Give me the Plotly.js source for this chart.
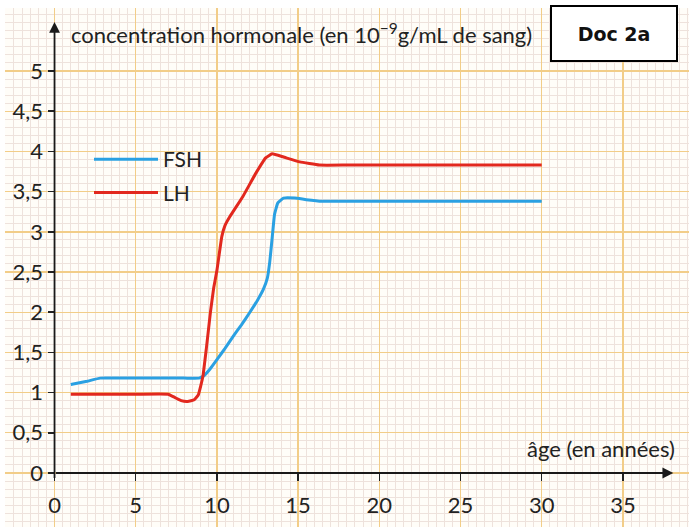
<!DOCTYPE html>
<html>
<head>
<meta charset="utf-8">
<script src="https://cdn.plot.ly/plotly-3.0.1.min.js"></script>
<style>
html,body{margin:0;padding:0;background:#fff;}
#chart{width:689px;height:527px;}
</style>
</head>
<body>
<div id="chart"></div>
<script>
// ---- data ----
const ageFSH = [1, 2, 2.8, 4, 6, 8, 8.9, 9.2, 9.6, 10, 10.5, 11, 11.5, 12, 12.5, 12.85, 13.1, 13.25, 13.4, 13.55, 13.75, 14.1, 14.8, 15.5, 16.5, 18, 20, 25, 30];
const fsh    = [1.10, 1.14, 1.18, 1.18, 1.18, 1.18, 1.18, 1.21, 1.30, 1.41, 1.55, 1.70, 1.84, 1.99, 2.15, 2.28, 2.42, 2.62, 2.92, 3.22, 3.36, 3.42, 3.42, 3.40, 3.38, 3.38, 3.38, 3.38, 3.38];
const ageLH  = [1, 3, 5, 7, 7.4, 7.8, 8.2, 8.6, 8.85, 9.0, 9.15, 9.35, 9.6, 9.8, 10.0, 10.3, 10.5, 10.8, 11.6, 12.4, 13.0, 13.4, 14.1, 15.1, 16.3, 18, 20, 25, 30];
const lh     = [0.98, 0.98, 0.98, 0.98, 0.94, 0.90, 0.89, 0.91, 0.97, 1.08, 1.22, 1.55, 2.0, 2.3, 2.52, 2.94, 3.08, 3.19, 3.44, 3.73, 3.92, 3.97, 3.93, 3.87, 3.83, 3.83, 3.83, 3.83, 3.83];
const seriesNames = ['FSH', 'LH'];
const xTicks = [0, 5, 10, 15, 20, 25, 30, 35];
const yTicks = [0, 0.5, 1, 1.5, 2, 2.5, 3, 3.5, 4, 4.5, 5];
const yTitle = 'concentration hormonale (en 10<sup>−9</sup>g/mL de sang)';
const xTitle = 'âge (en années)';
const docLabel = '<b>Doc 2a</b>';

// ---- geometry ----
const W = 689, H = 527;
const mL = 5, mR = 0, mT = 8, mB = 0;
const xRange = [-3.05, 39.07];
const yRange = [-0.672, 5.784];
const pw = W - mL - mR, ph = H - mT - mB;
const xFrac = v => (v - xRange[0]) / (xRange[1] - xRange[0]);
const yFrac = v => (v - yRange[0]) / (yRange[1] - yRange[0]);
const pxX = p => (p - mL) / pw;
const pxY = p => 1 - (p - mT) / ph;

const fontFam = 'Lato, "Open Sans", "DejaVu Sans", sans-serif';
const colFSH = '#2aa0e2', colLH = '#e2281e';
const gridMajor = '#f2cd88', gridMid = '#f5e1b0', gridMinor = '#eee2dc';

const traces = [
  {x: ageFSH, y: fsh, name: seriesNames[0], type: 'scatter', mode: 'lines',
   line: {color: colFSH, width: 3, shape: 'spline', smoothing: 0.3}, legendgroup: 'a', xaxis: 'x', yaxis: 'y'},
  {x: ageLH, y: lh, name: seriesNames[1], type: 'scatter', mode: 'lines',
   line: {color: colLH, width: 3, shape: 'spline', smoothing: 0.3}, legendgroup: 'b', xaxis: 'x', yaxis: 'y'}
];

const layout = {
  width: W, height: H,
  margin: {l: mL, r: mR, t: mT, b: mB, pad: 0},
  paper_bgcolor: '#ffffff',
  plot_bgcolor: '#fffdf8',
  separators: ', ',
  font: {family: fontFam, color: '#222', size: 20},
  showlegend: true,
  legend: {x: pxX(89), y: pxY(139), xanchor: 'left', yanchor: 'top',
           bgcolor: 'rgba(0,0,0,0)', font: {size: 21, color: '#222', family: fontFam},
           traceorder: 'grouped', tracegroupgap: 3, itemwidth: 64},
  xaxis: {
    range: xRange, anchor: 'free', position: yFrac(0),
    tickmode: 'array', tickvals: xTicks,
    ticks: 'outside', ticklen: 7, tickwidth: 1.5, tickcolor: '#222',
    ticklabelstandoff: 6,
    tickfont: {size: 22, color: '#222', family: fontFam},
    showgrid: true, gridcolor: gridMajor, gridwidth: 1.4,
    minor: {dtick: 0.5, tick0: 0, showgrid: true, gridcolor: gridMinor, gridwidth: 1, ticks: ''},
    zeroline: false, showline: false, fixedrange: true
  },
  yaxis: {
    range: yRange, anchor: 'free', position: xFrac(0),
    tickmode: 'array', tickvals: yTicks,
    ticks: 'outside', ticklen: 7, tickwidth: 1.5, tickcolor: '#222',
    tickfont: {size: 22, color: '#222', family: fontFam},
    showgrid: true, gridcolor: gridMajor, gridwidth: 1.4,
    minor: {dtick: 0.1, tick0: 0, showgrid: true, gridcolor: gridMinor, gridwidth: 1, ticks: ''},
    zeroline: false, showline: false, fixedrange: true
  },
  xaxis2: {
    range: xRange, overlaying: 'x', anchor: 'y2',
    tickmode: 'linear', tick0: 2.5, dtick: 5,
    showticklabels: false, ticks: '', showgrid: true, gridcolor: gridMid, gridwidth: 1.2,
    zeroline: false, showline: false, fixedrange: true
  },
  yaxis2: {
    range: yRange, overlaying: 'y', anchor: 'x2',
    tickmode: 'linear', tick0: 0.5, dtick: 1,
    showticklabels: false, ticks: '', showgrid: true, gridcolor: gridMid, gridwidth: 1.2,
    zeroline: false, showline: false, fixedrange: true
  },
  annotations: [
    // y axis line with arrow
    {x: 0, y: 5.61, ax: 0, ay: -0.08, xref: 'x', yref: 'y', axref: 'x', ayref: 'y',
     text: '', showarrow: true, arrowhead: 2, arrowsize: 1.2, arrowwidth: 1.8, arrowcolor: '#1a1a1a', standoff: 0, startstandoff: 0},
    // x axis line with arrow
    {x: 38.1, y: 0, ax: 0, ay: 0, xref: 'x', yref: 'y', axref: 'x', ayref: 'y',
     text: '', showarrow: true, arrowhead: 2, arrowsize: 1.2, arrowwidth: 1.8, arrowcolor: '#1a1a1a', standoff: 0, startstandoff: 0},
    // y title
    {x: pxX(69), y: pxY(33), xref: 'paper', yref: 'paper', xanchor: 'left', yanchor: 'middle',
     text: yTitle, showarrow: false, font: {size: 22, color: '#222', family: fontFam}},
    // x title
    {x: pxX(677), y: pxY(448), xref: 'paper', yref: 'paper', xanchor: 'right', yanchor: 'middle',
     text: xTitle, showarrow: false, font: {size: 22, color: '#222', family: fontFam}},
    // Doc 2a box
    {x: pxX(614), y: pxY(33.5), xref: 'paper', yref: 'paper', xanchor: 'center', yanchor: 'middle',
     text: docLabel, showarrow: false, width: 124, height: 53, align: 'center', valign: 'middle',
     bgcolor: '#ffffff', bordercolor: '#000000', borderwidth: 2, borderpad: 0,
     font: {size: 19, color: '#111', family: '"Comic Sans MS", "DejaVu Sans", sans-serif'}}
  ]
};

Plotly.newPlot('chart', traces, layout, {displayModeBar: false, staticPlot: true});
</script>
</body>
</html>
